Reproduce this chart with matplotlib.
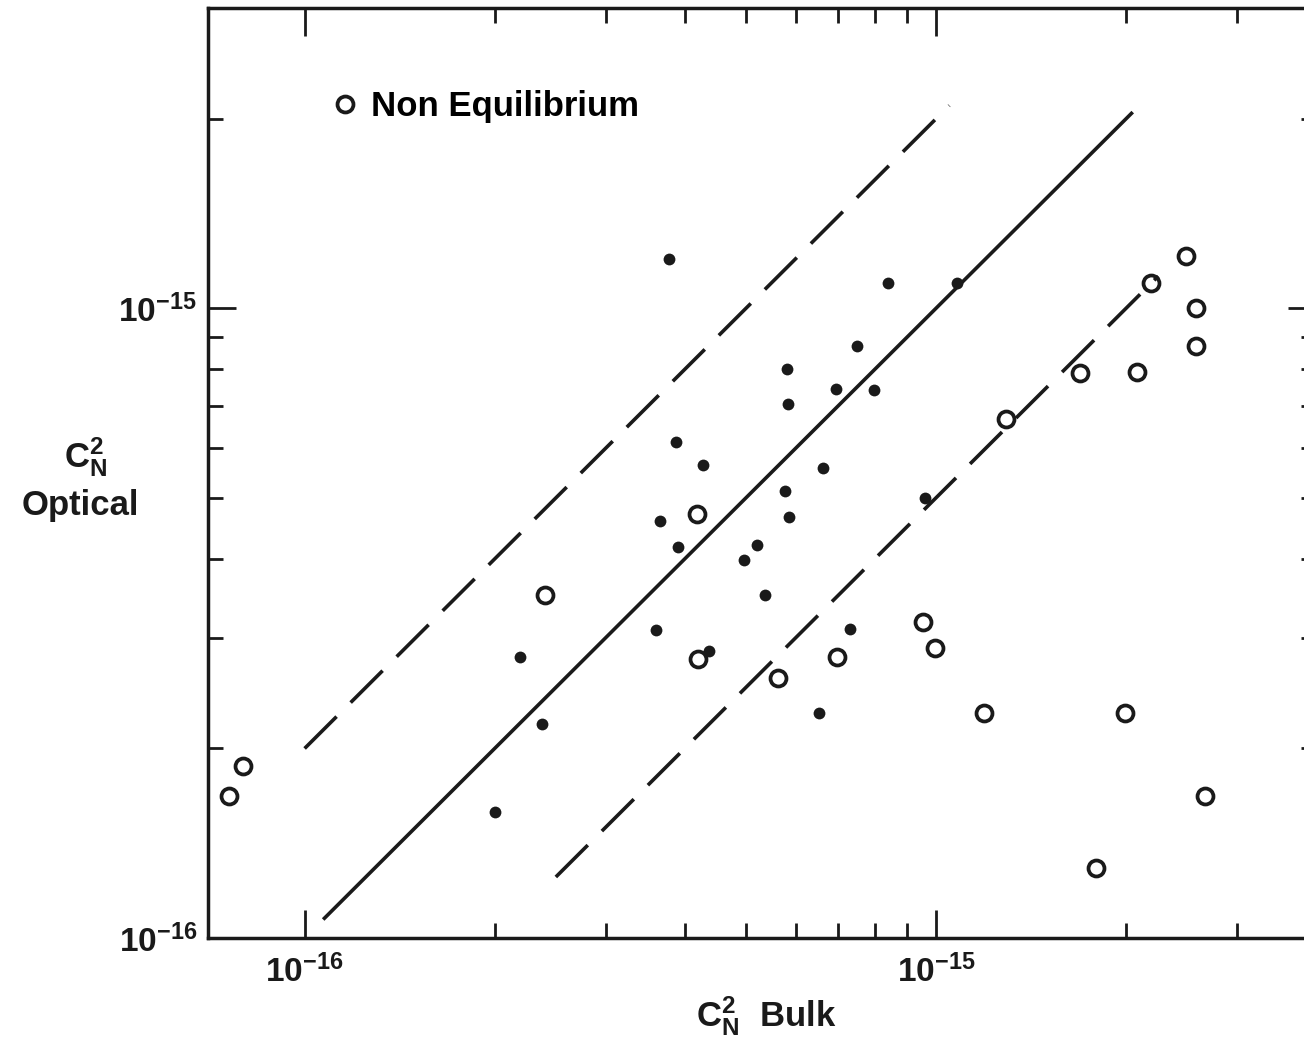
import numpy as np
import matplotlib
matplotlib.use('Agg')
import matplotlib.pyplot as plt
from matplotlib.ticker import FixedLocator, NullFormatter, FuncFormatter

plt.rcParams['font.family'] = ['Liberation Sans', 'DejaVu Sans']
plt.rcParams['font.weight'] = 'bold'
plt.rcParams['mathtext.fontset'] = 'custom'
plt.rcParams['mathtext.rm'] = 'Liberation Sans:bold'
plt.rcParams['mathtext.it'] = 'Liberation Sans:bold'
plt.rcParams['mathtext.bf'] = 'Liberation Sans:bold'

# equilibrium points (filled dots): bulk vs optical Cn^2
eq_bulk = [3.78e-16, 8.4e-16, 1.08e-15, 7.5e-16, 5.8e-16, 6.95e-16, 7.98e-16,
           5.84e-16, 3.88e-16, 4.27e-16, 6.62e-16, 9.6e-16, 5.77e-16, 3.66e-16,
           5.85e-16, 3.9e-16, 5.2e-16, 4.97e-16, 5.36e-16, 3.6e-16, 7.3e-16,
           2.19e-16, 4.37e-16, 2.38e-16, 6.53e-16, 2.0e-16]
eq_opt = [1.2e-15, 1.096e-15, 1.098e-15, 8.7e-16, 8.0e-16, 7.46e-16, 7.43e-16,
          7.05e-16, 6.13e-16, 5.65e-16, 5.57e-16, 4.99e-16, 5.13e-16, 4.59e-16,
          4.67e-16, 4.18e-16, 4.21e-16, 3.98e-16, 3.5e-16, 3.08e-16, 3.1e-16,
          2.79e-16, 2.86e-16, 2.19e-16, 2.28e-16, 1.585e-16]

# non equilibrium points (open circles)
neq_bulk = [2.49e-15, 2.19e-15, 2.58e-15, 2.58e-15, 1.69e-15, 2.08e-15, 1.29e-15,
            4.19e-16, 2.4e-16, 9.53e-16, 9.96e-16, 4.2e-16, 6.96e-16, 5.62e-16,
            1.19e-15, 1.99e-15, 7.98e-17, 7.58e-17, 2.67e-15, 1.79e-15]
neq_opt = [1.21e-15, 1.098e-15, 1.0e-15, 8.73e-16, 7.9e-16, 7.92e-16, 6.67e-16,
           4.71e-16, 3.5e-16, 3.18e-16, 2.89e-16, 2.77e-16, 2.79e-16, 2.59e-16,
           2.28e-16, 2.28e-16, 1.875e-16, 1.68e-16, 1.68e-16, 1.29e-16]

# reference lines: optical = factor * bulk
one_x = [1.07e-16, 2.05e-15]
upper_x = [1.0e-16, 1.05e-15]
lower_x = [2.5e-16, 2.25e-15]
upper_factor = 2.0
lower_factor = 0.5

xlim = (7.03e-17, 4.0e-15)
ylim = (1.0e-16, 3.0e-15)
major_ticks = [1e-16, 1e-15]
x_minor = [k * 1e-16 for k in range(2, 10)] + [2e-15, 3e-15]
y_minor = [k * 1e-16 for k in range(2, 10)] + [2e-15]

ink = '#1a1a1a'

fig = plt.figure(figsize=(13.04, 10.41), dpi=100)
ax = fig.add_axes([208 / 1304, 103 / 1041, 1108 / 1304, 930 / 1041])
ax.set_xscale('log')
ax.set_yscale('log')
ax.set_xlim(*xlim)
ax.set_ylim(*ylim)

lw = 2.6
dash = (0, (12.5, 5.5))
ax.plot(one_x, one_x, color=ink, lw=lw, solid_capstyle='butt')
ax.plot(upper_x, [upper_factor * v for v in upper_x], color=ink, lw=lw,
        linestyle=dash, dash_capstyle='butt')
ax.plot(lower_x, [lower_factor * v for v in lower_x], color=ink, lw=lw,
        linestyle=dash, dash_capstyle='butt')

ax.plot(eq_bulk, eq_opt, linestyle='none', marker='o', ms=8.5, mew=0, color=ink)
neq, = ax.plot(neq_bulk, neq_opt, linestyle='none', marker='o', ms=11.5, mew=2.7,
               mfc='none', mec=ink, label='Non Equilibrium')

ax.legend(handles=[neq], loc='upper left', bbox_to_anchor=(0.114, 0.912),
          frameon=False, handlelength=0.6, handletextpad=0.45, borderpad=0,
          borderaxespad=0, markerscale=1.0, prop={'size': 25, 'weight': 'bold'})

for s in ax.spines.values():
    s.set_linewidth(2.5)
    s.set_color(ink)

ax.xaxis.set_major_locator(FixedLocator(major_ticks))
ax.yaxis.set_major_locator(FixedLocator(major_ticks))
ax.xaxis.set_minor_locator(FixedLocator(x_minor))
ax.yaxis.set_minor_locator(FixedLocator(y_minor))
fmt = FuncFormatter(lambda v, p: r'$\mathrm{10^{%d}}$' % int(round(np.log10(v))))
ax.xaxis.set_major_formatter(fmt)
ax.yaxis.set_major_formatter(fmt)
ax.xaxis.set_minor_formatter(NullFormatter())
ax.yaxis.set_minor_formatter(NullFormatter())

ax.tick_params(which='both', direction='in', top=True, right=True,
               color=ink, width=2.0, labelsize=24, labelcolor=ink)
ax.tick_params(which='major', length=20)
ax.tick_params(which='minor', length=11)
ax.tick_params(axis='x', which='major', pad=12)
ax.tick_params(axis='y', which='major', pad=8)

fig.text(766 / 1304, 15 / 1041, r'$\mathrm{C_N^{2}}$  Bulk', ha='center', va='baseline',
         fontsize=25, color=ink)
fig.text(86 / 1304, 1 - 467 / 1041, r'$\mathrm{C_N^{2}}$', ha='center', va='baseline',
         fontsize=25, color=ink)
fig.text(80 / 1304, 1 - 515 / 1041, 'Optical', ha='center', va='baseline',
         fontsize=25, color=ink)

fig.savefig('out.png', dpi=100, facecolor='white')
